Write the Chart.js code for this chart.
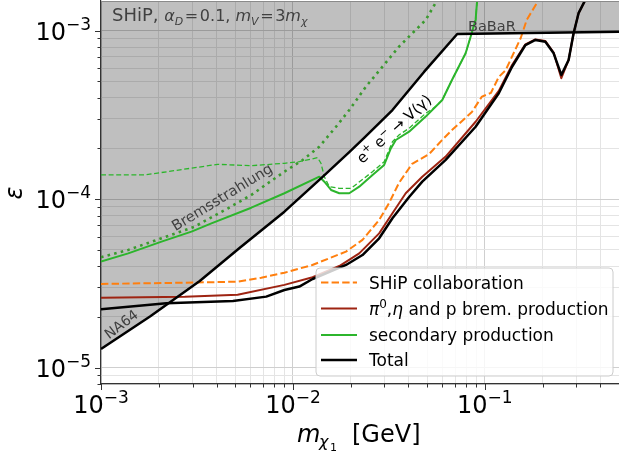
<!DOCTYPE html>
<html>
<head>
<meta charset="utf-8">
<script src="https://cdn.jsdelivr.net/npm/chart.js@4.4.0/dist/chart.umd.min.js"></script>
<style>
  html, body { margin: 0; padding: 0; background: #fff; }
  #wrap { width: 619px; height: 460px; }
</style>
</head>
<body>
<div id="wrap"><canvas id="c" width="619" height="460"></canvas></div>
<script>
// --- data (mass in GeV, epsilon) ---
const na64Mass = [0.001, 0.0018, 0.00327, 0.00527, 0.00903, 0.01428, 0.01966, 0.0235, 0.033, 0.0482, 0.0718, 0.5];
const na64Eps  = [1.29e-5, 2.01e-5, 3.27e-5, 5.13e-5, 8.43e-5, 1.355e-4, 1.9e-4, 2.31e-4, 3.38e-4, 5.69e-4, 9.55e-4, 9.86e-4];

const shipMass = [0.001, 0.00308, 0.00517, 0.00684, 0.00903, 0.01263, 0.0189, 0.02304, 0.02814, 0.03172, 0.0357, 0.0418, 0.0512, 0.0598, 0.0674, 0.0856, 0.0965, 0.1075, 0.1182, 0.1285, 0.1538, 0.1653, 0.1908];
const shipEps  = [3.14e-5, 3.2e-5, 3.24e-5, 3.42e-5, 3.66e-5, 4.07e-5, 4.88e-5, 5.73e-5, 7.53e-5, 9.5e-5, 1.25e-4, 1.62e-4, 1.85e-4, 2.24e-4, 2.57e-4, 3.29e-4, 4.06e-4, 4.27e-4, 5.31e-4, 5.84e-4, 9.05e-4, 1.16e-3, 1.52e-3];

const mesonMass = [0.001, 0.00273, 0.00515, 0.00903, 0.01266, 0.01744, 0.02216, 0.02814, 0.033, 0.0387, 0.0472, 0.0625, 0.0895, 0.1182, 0.1386, 0.1627, 0.1834, 0.2067, 0.2283, 0.2503, 0.2732, 0.29, 0.3078, 0.3336];
const mesonEps  = [2.6e-5, 2.64e-5, 2.71e-5, 3.1e-5, 3.44e-5, 4.01e-5, 4.77e-5, 6.27e-5, 8.25e-5, 1.084e-4, 1.36e-4, 1.79e-4, 2.88e-4, 4.39e-4, 6.26e-4, 8.3e-4, 8.87e-4, 8.68e-4, 7.42e-4, 5.22e-4, 6.7e-4, 9.65e-4, 1.27e-3, 1.52e-3];

const secMass = [0.001, 0.001386, 0.002067, 0.00296, 0.00376, 0.00607, 0.00903, 0.01373, 0.01458, 0.0158, 0.01744, 0.01966, 0.02216, 0.02598, 0.02988, 0.03237, 0.03436, 0.0403, 0.0492, 0.06, 0.0674, 0.0794, 0.0843, 0.0895, 0.0912];
const secEps  = [4.26e-5, 4.77e-5, 5.6e-5, 6.42e-5, 7.19e-5, 8.9e-5, 1.084e-4, 1.36e-4, 1.27e-4, 1.134e-4, 1.084e-4, 1.084e-4, 1.186e-4, 1.392e-4, 1.596e-4, 2.0e-4, 2.245e-4, 2.515e-4, 3.09e-4, 3.88e-4, 5.1e-4, 7.34e-4, 9.21e-4, 1.158e-3, 1.52e-3];

const secAltMass = [0.001, 0.00169, 0.00406, 0.00607, 0.00903, 0.0108, 0.01345, 0.014, 0.01458, 0.01547, 0.01744, 0.0201, 0.02598, 0.02988, 0.033, 0.0357, 0.0403, 0.0492, 0.0554, 0.06, 0.0674, 0.0794, 0.0843, 0.0895, 0.0912];
const secAltEps  = [1.392e-4, 1.392e-4, 1.61e-4, 1.58e-4, 1.633e-4, 1.67e-4, 1.763e-4, 1.633e-4, 1.36e-4, 1.186e-4, 1.16e-4, 1.16e-4, 1.456e-4, 1.67e-4, 2.19e-4, 2.404e-4, 2.635e-4, 3.235e-4, 3.54e-4, 3.88e-4, 5.1e-4, 7.34e-4, 9.21e-4, 1.158e-3, 1.52e-3];

const bremMass = [0.001, 0.001386, 0.002067, 0.003077, 0.00459, 0.00607, 0.0074, 0.00903, 0.01124, 0.01373, 0.01677, 0.01966, 0.024, 0.0357, 0.0492, 0.0565];
const bremEps  = [4.52e-5, 5.0e-5, 5.86e-5, 6.87e-5, 8.83e-5, 1.059e-4, 1.243e-4, 1.456e-4, 1.708e-4, 2.05e-4, 2.69e-4, 3.38e-4, 4.65e-4, 8.04e-4, 1.158e-3, 1.52e-3];

const totalMass = [0.001, 0.00219, 0.00487, 0.00726, 0.00903, 0.0108, 0.01266, 0.0189, 0.02304, 0.02814, 0.033, 0.0403, 0.0472, 0.0625, 0.0895, 0.1182, 0.1386, 0.1627, 0.1834, 0.2067, 0.2283, 0.2503, 0.2732, 0.29, 0.3078, 0.3336];
const totalEps  = [2.22e-5, 2.41e-5, 2.49e-5, 2.64e-5, 2.89e-5, 3.03e-5, 3.36e-5, 4.07e-5, 4.66e-5, 5.86e-5, 7.7e-5, 1.03e-4, 1.27e-4, 1.71e-4, 2.69e-4, 4.25e-4, 6.11e-4, 8.22e-4, 8.81e-4, 8.6e-4, 7.34e-4, 5.46e-4, 6.7e-4, 9.65e-4, 1.27e-3, 1.52e-3];

const xRange = [1e-3, 0.5];
const yRange = [8e-6, 1.5e-3];
const xLabelExp = [-3, -2, -1];
const yLabelExp = [-5, -4, -3];

const legendNames = ['SHiP collaboration', 'π0,η and p brem. production', 'secondary production', 'Total'];

const FONT = "'DejaVu Sans'";
function pts(xs, ys){ return xs.map((v,i)=>({x:v, y:ys[i]})); }
function isDecade(v){ const l = Math.log10(v); return Math.abs(l - Math.round(l)) < 1e-6; }

// grid ticks: 1..9 x 10^n inside the range
function logTicks(min, max){
  const out = [];
  for (let e = Math.floor(Math.log10(min)); e <= Math.ceil(Math.log10(max)); e++){
    for (let m = 1; m < 10; m++){
      const v = m * Math.pow(10, e);
      if (v >= min*0.9999 && v <= max*1.0001) out.push({value: v, major: m === 1});
    }
  }
  return out;
}

// draw a run of text pieces with different fonts / offsets
function rich(ctx, parts, x, y, align){
  let w = 0;
  parts.forEach(p=>{ ctx.font = p.f; w += ctx.measureText(p.t).width; });
  let cx = align==='center' ? x - w/2 : (align==='right' ? x - w : x);
  parts.forEach(p=>{ ctx.font = p.f; ctx.fillText(p.t, cx, y + (p.dy||0)); cx += ctx.measureText(p.t).width; });
  return w;
}

const overlay = {
  id: 'overlay',
  afterDraw(chart){
    const {ctx, chartArea: a, scales: {x, y}} = chart;
    ctx.save();
    ctx.textBaseline = 'alphabetic';

    // top frame line
    ctx.strokeStyle = '#8a8a8a'; ctx.lineWidth = 1;
    ctx.beginPath(); ctx.moveTo(a.left, a.top+0.5); ctx.lineTo(a.right, a.top+0.5); ctx.stroke();

    // tick marks
    ctx.strokeStyle = '#333'; ctx.lineWidth = 1;
    x.ticks.forEach(t=>{
      const px = Math.round(x.getPixelForValue(t.value)) + 0.5;
      const len = isDecade(t.value) ? 6 : 3.5;
      ctx.beginPath(); ctx.moveTo(px, a.bottom); ctx.lineTo(px, a.bottom + len); ctx.stroke();
    });
    y.ticks.forEach(t=>{
      const py = Math.round(y.getPixelForValue(t.value)) + 0.5;
      const len = isDecade(t.value) ? 6 : 3.5;
      ctx.beginPath(); ctx.moveTo(a.left, py); ctx.lineTo(a.left - len, py); ctx.stroke();
    });

    // tick labels 10^n
    ctx.fillStyle = '#000';
    const big = '24px ' + FONT, sup = '17px ' + FONT;
    xLabelExp.forEach(e=>{
      const px = x.getPixelForValue(Math.pow(10, e));
      rich(ctx, [{t:'10', f:big}, {t:'\u2212' + Math.abs(e), f:sup, dy:-10}], px, 413, 'center');
    });
    yLabelExp.forEach(e=>{
      const py = y.getPixelForValue(Math.pow(10, e));
      rich(ctx, [{t:'10', f:big}, {t:'\u2212' + Math.abs(e), f:sup, dy:-10}], 91, py + 9, 'right');
    });

    // axis titles
    ctx.font = 'italic 24px ' + FONT;
    ctx.fillText('m', 297, 442);
    ctx.font = 'italic 16px ' + FONT;
    ctx.fillText('χ', 319, 447);
    ctx.font = '11px ' + FONT;
    ctx.fillText('1', 330, 451);
    ctx.font = '24px ' + FONT;
    ctx.fillText('[GeV]', 352, 442);

    ctx.save();
    ctx.translate(22, 193); ctx.rotate(-Math.PI/2);
    ctx.font = 'italic 24px ' + FONT; ctx.textAlign = 'center';
    ctx.fillText('ε', 0, 0);
    ctx.restore();

    // annotations
    ctx.fillStyle = '#404040';
    const n18 = '18px ' + FONT, n16 = '16px ' + FONT, i16 = 'italic 16px ' + FONT, i11 = 'italic 11px ' + FONT;
    rich(ctx, [
      {t:'SHiP, ', f:n18}, {t:'α', f:i16}, {t:'D', f:i11, dy:4},
      {t:'\u200a=\u200a0.1, ', f:n16}, {t:'m', f:i16}, {t:'V', f:i11, dy:4},
      {t:'\u200a=\u200a3', f:n16}, {t:'m', f:i16}, {t:'χ', f:i11, dy:4}
    ], 112, 21, 'left');

    ctx.font = '14.5px ' + FONT;
    ctx.fillText('BaBaR', 468, 31);

    ctx.textAlign = 'center';
    ctx.save();
    ctx.translate(222, 197); ctx.rotate(-31.5*Math.PI/180);
    ctx.font = '14.5px ' + FONT; ctx.fillText('Bremsstrahlung', 0, 5);
    ctx.restore();

    ctx.save();
    ctx.translate(121, 324); ctx.rotate(-37*Math.PI/180);
    ctx.font = '14px ' + FONT; ctx.fillText('NA64', 0, 5);
    ctx.restore();

    ctx.save();
    ctx.fillStyle = '#000';
    ctx.translate(394, 129); ctx.rotate(-42*Math.PI/180);
    ctx.textAlign = 'left';
    const n15 = '15px ' + FONT, s11 = '11px ' + FONT;
    rich(ctx, [{t:'e', f:n15}, {t:'+', f:s11, dy:-6}, {t:' e', f:n15}, {t:'\u2212', f:s11, dy:-6}, {t:' \u2192 V(γ)', f:n15}], 0, 5, 'center');
    ctx.restore();

    // legend box
    ctx.textAlign = 'left';
    const bx = 316, by = 268, bw = 297, bh = 108, r = 4;
    ctx.beginPath();
    ctx.moveTo(bx + r, by); ctx.lineTo(bx + bw - r, by); ctx.quadraticCurveTo(bx + bw, by, bx + bw, by + r);
    ctx.lineTo(bx + bw, by + bh - r); ctx.quadraticCurveTo(bx + bw, by + bh, bx + bw - r, by + bh);
    ctx.lineTo(bx + r, by + bh); ctx.quadraticCurveTo(bx, by + bh, bx, by + bh - r);
    ctx.lineTo(bx, by + r); ctx.quadraticCurveTo(bx, by, bx + r, by);
    ctx.closePath();
    ctx.fillStyle = 'rgba(255,255,255,0.8)'; ctx.fill();
    ctx.strokeStyle = '#cccccc'; ctx.lineWidth = 1; ctx.stroke();

    const rows = [282.5, 308.5, 335, 360];
    const legendSets = [2, 1, 3, 0];
    const n17 = '17px ' + FONT, i17 = 'italic 17px ' + FONT, s12 = '12px ' + FONT;
    legendSets.forEach((di, k)=>{
      const ds = chart.data.datasets[di];
      ctx.save();
      ctx.strokeStyle = ds.borderColor; ctx.lineWidth = ds.borderWidth;
      ctx.setLineDash(ds.borderDash || []);
      ctx.beginPath(); ctx.moveTo(321, rows[k]); ctx.lineTo(357, rows[k]); ctx.stroke();
      ctx.restore();
      ctx.fillStyle = '#000';
      if (k === 1){
        rich(ctx, [{t:'π', f:i17}, {t:'0', f:s12, dy:-7}, {t:',', f:n17}, {t:'η', f:i17}, {t:' and p brem. production', f:n17}], 369, rows[k] + 6, 'left');
      } else {
        ctx.font = n17; ctx.fillText(legendNames[k], 369, rows[k] + 6);
      }
    });

    ctx.restore();
  }
};

const gridColor = (c)=> (c.tick && isDecade(c.tick.value)) ? '#cfcfcf' : '#e4e4e4';

new Chart(document.getElementById('c'), {
  type: 'line',
  data: {
    datasets: [
      {label: legendNames[3], data: pts(totalMass, totalEps), borderColor: '#000000', borderWidth: 2.5, order: 0},
      {label: legendNames[1], data: pts(mesonMass, mesonEps), borderColor: '#9e2412', borderWidth: 2, order: 1},
      {label: legendNames[0], data: pts(shipMass, shipEps), borderColor: '#ff7f0e', borderWidth: 2, borderDash: [7.4, 3.2], order: 2},
      {label: legendNames[2], data: pts(secMass, secEps), borderColor: '#2cb52c', borderWidth: 2, order: 3},
      {label: 'secondary (alt)', data: pts(secAltMass, secAltEps), borderColor: '#2cb52c', borderWidth: 1.3, borderDash: [5, 2.6], order: 4},
      {label: 'Bremsstrahlung', data: pts(bremMass, bremEps), borderColor: '#3b9a2f', borderWidth: 2.6, borderDash: [2.6, 4.2], order: 5},
      {label: 'NA64 + BaBaR', data: pts(na64Mass, na64Eps), borderColor: '#000000', borderWidth: 2.5, order: -1},
      {label: 'excluded', data: pts(na64Mass, na64Eps), borderWidth: 0, borderColor: 'rgba(0,0,0,0)', backgroundColor: 'rgba(0,0,0,0.25)', fill: 'end', order: 10}
    ]
  },
  options: {
    responsive: false,
    animation: false,
    events: [],
    layout: {padding: {top: 1, right: 0, left: 0, bottom: 0}},
    elements: {point: {radius: 0}, line: {tension: 0, borderCapStyle: 'butt', borderJoinStyle: 'round'}},
    plugins: {legend: {display: false}, tooltip: {enabled: false}},
    scales: {
      x: {
        type: 'logarithmic', min: xRange[0], max: xRange[1],
        afterBuildTicks: s=>{ s.ticks = logTicks(xRange[0], xRange[1]); },
        afterFit: s=>{ s.height = 76; },
        ticks: {display: false},
        grid: {color: gridColor, lineWidth: 1, drawTicks: false},
        border: {display: true, color: '#333', width: 1.2}
      },
      y: {
        type: 'logarithmic', min: yRange[0], max: yRange[1],
        afterBuildTicks: s=>{ s.ticks = logTicks(yRange[0], yRange[1]); },
        afterFit: s=>{ s.width = 101; },
        ticks: {display: false},
        grid: {color: gridColor, lineWidth: 1, drawTicks: false},
        border: {display: true, color: '#333', width: 1.2}
      }
    }
  },
  plugins: [overlay]
});
</script>
</body>
</html>
